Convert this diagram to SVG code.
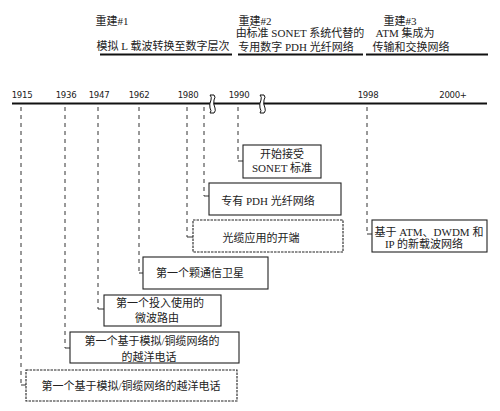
<svg xmlns="http://www.w3.org/2000/svg" width="500" height="411" viewBox="0 0 500 411">
<style>
.t{font-family:"Liberation Serif","Noto Sans CJK SC",serif;font-size:11px;fill:#222;text-anchor:middle}
.y{font-family:"DejaVu Sans Condensed","Liberation Sans",sans-serif;font-size:9.5px;fill:#222;text-anchor:middle;letter-spacing:-0.3px}
.box{fill:#fff;stroke:#222;stroke-width:1.1}
.dot{stroke-dasharray:2.5 1}
.c{fill:none;stroke:#333;stroke-width:1;stroke-dasharray:4 4}
.h{fill:none;stroke:#333;stroke-width:1}
.ul{stroke:#111;stroke-width:2.2}
</style>
<rect width="500" height="411" fill="#fff"/>
<g id="header1">
<text class="t" x="112" y="25">重建#1</text>
<text class="t" x="163" y="50">模拟 L 载波转换至数字层次</text>
<line class="ul" x1="100" y1="54.5" x2="232" y2="54.5"/>
</g>
<g id="header2">
<text class="t" x="255" y="25">重建#2</text>
<text class="t" x="300" y="37">由标准 SONET 系统代替的</text>
<text class="t" x="296" y="51">专用数字 PDH 光纤网络</text>
<line class="ul" x1="238" y1="54.5" x2="363" y2="54.5"/>
</g>
<g id="header3">
<text class="t" x="400" y="25">重建#3</text>
<text class="t" x="405" y="37">ATM 集成为</text>
<text class="t" x="411" y="51">传输和交换网络</text>
<line class="ul" x1="366" y1="54.5" x2="488" y2="54.5"/>
</g>
<g id="timeline">
<line x1="12" y1="103.5" x2="487" y2="103.5" stroke="#111" stroke-width="2.2"/>
<text class="y" x="22" y="98">1915</text>
<text class="y" x="66" y="98">1936</text>
<text class="y" x="99" y="98">1947</text>
<text class="y" x="139" y="98">1962</text>
<text class="y" x="188" y="98">1980</text>
<text class="y" x="239" y="98">1990</text>
<text class="y" x="368" y="98">1998</text>
<text class="y" x="453" y="98">2000+</text>
<path d="M210,95 h4 q2,2 0,5 q-1,4 1,8 q1,3 -1,5 h-4 q2,-2 0,-5 q-1,-4 1,-8 q1,-3 -1,-5 z" fill="#fff" stroke="#111" stroke-width="1"/>
<path d="M260,95 h4 q2,2 0,5 q-1,4 1,8 q1,3 -1,5 h-4 q2,-2 0,-5 q-1,-4 1,-8 q1,-3 -1,-5 z" fill="#fff" stroke="#111" stroke-width="1"/>
</g>
<g id="connectors">
<path class="c" d="M21,107 V385"/><path class="h" d="M21,385 H26"/>
<path class="c" d="M65,107 V348"/><path class="h" d="M65,348 H70"/>
<path class="c" d="M98,107 V309"/><path class="h" d="M98,309 H104"/>
<path class="c" d="M139,107 V273"/><path class="h" d="M139,273 H143"/>
<path class="c" d="M187,107 V237"/><path class="h" d="M187,237 H193"/>
<path class="c" d="M204,107 V196"/><path class="h" d="M204,196 H209"/>
<path class="c" d="M238,107 V161"/><path class="h" d="M238,161 H243"/>
<path class="c" d="M367,107 V234"/><path class="h" d="M367,234 H372"/>
</g>
<g id="n-sonet">
<rect class="box" x="243" y="145" width="78" height="33"/>
<text class="t" x="282" y="158">开始接受</text>
<text class="t" x="282" y="172">SONET 标准</text>
</g>
<g id="n-pdh">
<rect class="box" x="209" y="183" width="132" height="32"/>
<text class="t" x="268" y="205">专有 PDH 光纤网络</text>
</g>
<g id="n-fiber">
<rect class="box dot" x="193" y="220" width="150" height="32"/>
<text class="t" x="261" y="242">光缆应用的开端</text>
</g>
<g id="n-atm">
<rect class="box" x="372" y="220" width="115" height="32"/>
<text class="t" x="429" y="236">基于 ATM、DWDM 和</text>
<text class="t" x="424" y="248">IP 的新载波网络</text>
</g>
<g id="n-sat">
<rect class="box" x="143" y="257" width="125" height="32"/>
<text class="t" x="200" y="277">第一个颗通信卫星</text>
</g>
<g id="n-micro">
<rect class="box" x="104" y="295" width="117" height="31"/>
<text class="t" x="160" y="307">第一个投入使用的</text>
<text class="t" x="157" y="322">微波路由</text>
</g>
<g id="n-tel2">
<rect class="box" x="70" y="332" width="169" height="31"/>
<text class="t" x="152" y="345">第一个基于模拟/铜缆网络的</text>
<text class="t" x="149" y="361">的越洋电话</text>
</g>
<g id="n-tel1">
<rect class="box dot" x="26" y="370" width="211" height="31"/>
<text class="t" x="131" y="390">第一个基于模拟/铜缆网络的越洋电话</text>
</g>
</svg>
